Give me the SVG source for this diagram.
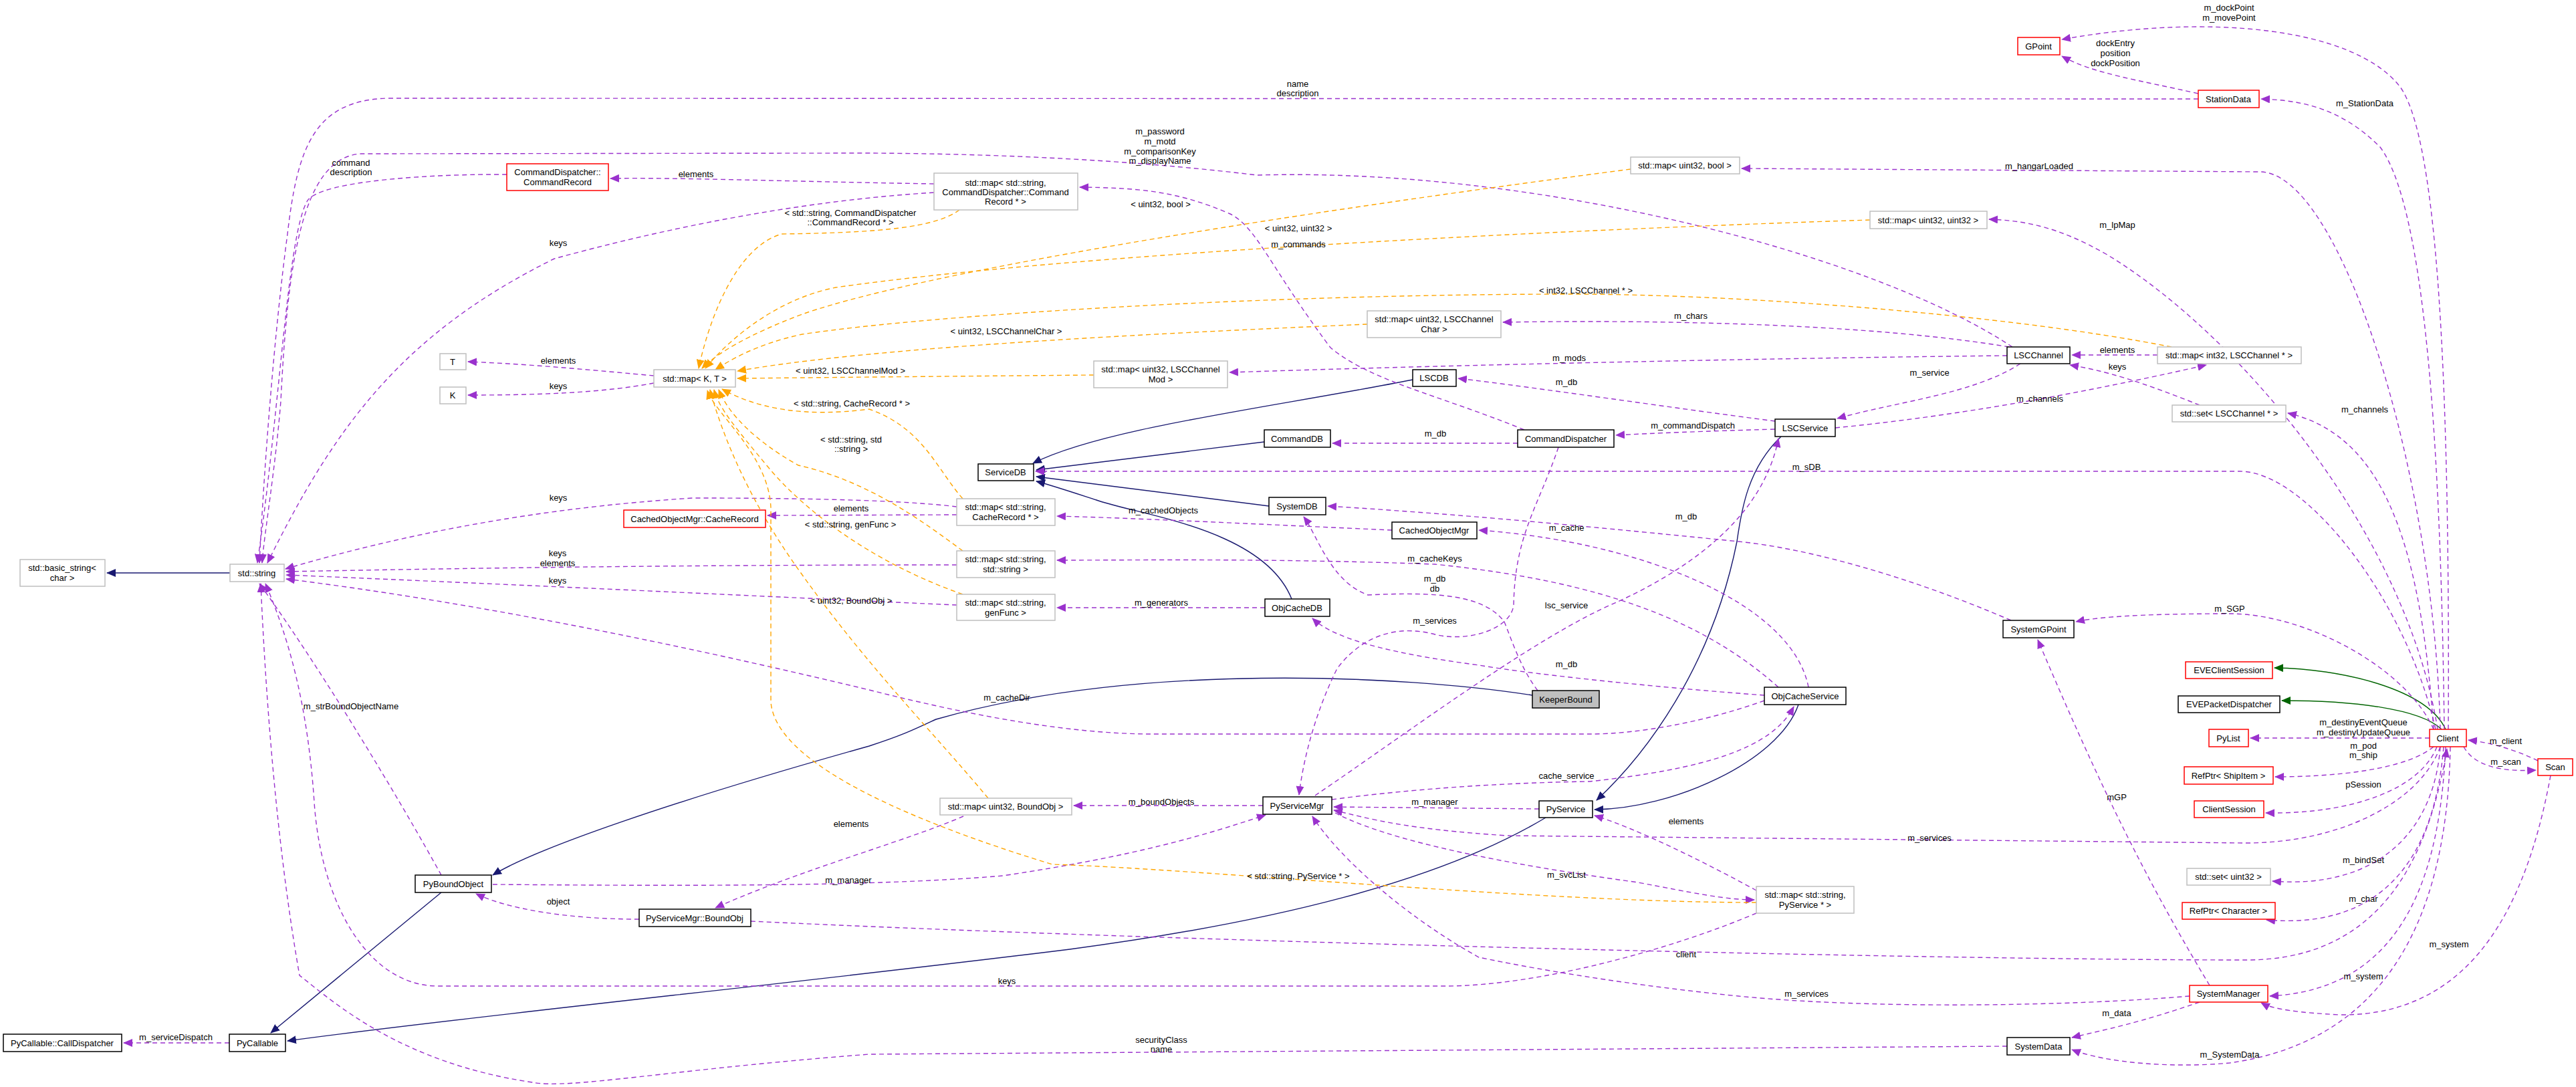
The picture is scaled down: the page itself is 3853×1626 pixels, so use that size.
<svg xmlns="http://www.w3.org/2000/svg" width="3853" height="1626" viewBox="0 0 3853 1626">
<style>
text{font-family:"Liberation Sans",Arial,sans-serif;font-size:13px;fill:#000;text-anchor:middle}
.n rect{fill:#fff;stroke:#000;stroke-width:1.5}
.t rect{fill:#fff;stroke:#bfbfbf;stroke-width:1.5}
.r rect{fill:#fff;stroke:#ff0000;stroke-width:1.5}
.k rect{fill:#bfbfbf;stroke:#000;stroke-width:1.5}
#edges path{fill:none;stroke-width:1.4}
.p{stroke:#9a32cd;stroke-dasharray:7,5;marker-end:url(#ap)}
.o{stroke:#ffa500;stroke-dasharray:7,5;marker-end:url(#ao)}
.b{stroke:#191970;marker-end:url(#ab)}
.g{stroke:#006400;marker-end:url(#ag)}
</style>
<defs>
<marker id="ap" markerUnits="userSpaceOnUse" markerWidth="14" markerHeight="12" refX="13" refY="6" orient="auto"><path d="M0,0L14,6L0,12z" fill="#9a32cd"/></marker>
<marker id="ao" markerUnits="userSpaceOnUse" markerWidth="14" markerHeight="12" refX="13" refY="6" orient="auto"><path d="M0,0L14,6L0,12z" fill="#ffa500"/></marker>
<marker id="ab" markerUnits="userSpaceOnUse" markerWidth="14" markerHeight="12" refX="13" refY="6" orient="auto"><path d="M0,0L14,6L0,12z" fill="#191970"/></marker>
<marker id="ag" markerUnits="userSpaceOnUse" markerWidth="14" markerHeight="12" refX="13" refY="6" orient="auto"><path d="M0,0L14,6L0,12z" fill="#006400"/></marker>
</defs>
<rect width="3853" height="1626" fill="#fff"/>
<g id="edges">
<path class="b" d="M344,857L160,857"/>
<path class="b" d="M660,1335L405,1545"/>
<path class="b" d="M2312,1223C2150,1320 1900,1380 1600,1420C1200,1470 700,1520 430,1557"/>
<path class="b" d="M2292,1040C2100,1010 1700,990 1400,1076C1370,1090 1350,1100 1300,1116C1000,1200 800,1270 737,1309"/>
<path class="b" d="M2690,1054C2660,1140 2500,1210 2385,1211"/>
<path class="b" d="M2664,653C2615,700 2605,760 2598,810C2560,1000 2460,1130 2388,1197"/>
<path class="b" d="M1932,896C1890,790 1700,770 1640,748C1600,735 1570,725 1550,720"/>
<path class="b" d="M1898,757L1550,713"/>
<path class="b" d="M1891,661L1550,703"/>
<path class="b" d="M2113,568C1900,610 1650,640 1545,693"/>
<path class="g" d="M3658,1091C3630,1030 3500,1000 3402,999"/>
<path class="g" d="M3652,1091C3620,1060 3520,1048 3413,1048"/>
<path class="p" d="M978,562C900,555 800,545 700,541"/>
<path class="p" d="M978,573C900,588 800,591 700,591"/>
<path class="p" d="M3288,140C3200,120 3130,110 3084,84"/>
<path class="p" d="M3662,1091C3665,500 3640,200 3590,130C3520,40 3300,20 3084,59"/>
<path class="p" d="M3656,1091C3650,600 3620,300 3560,220C3500,160 3440,150 3382,148"/>
<path class="p" d="M3288,148L580,147C470,150 445,220 430,350C410,500 395,700 388,842"/>
<path class="p" d="M3650,1091C3640,700 3500,257 3380,257L2605,252"/>
<path class="p" d="M3646,1091C3600,800 3350,500 3150,380C3080,340 3030,330 2975,328"/>
<path class="p" d="M3010,519C2800,380 2300,250 1880,262C1700,240 1500,230 1300,229L540,230C450,235 430,400 420,600C412,700 395,800 392,842"/>
<path class="p" d="M1397,275C1200,272 1000,265 913,267"/>
<path class="p" d="M1397,288C1200,300 1000,340 829,387C600,500 500,640 400,842"/>
<path class="p" d="M758,261C650,260 480,270 460,300C430,350 420,600 385,842"/>
<path class="p" d="M2280,643C2150,590 2050,570 1990,520C1900,400 1880,340 1840,320C1760,285 1700,281 1615,280"/>
<path class="p" d="M2745,640C2950,620 3150,580 3300,546"/>
<path class="p" d="M3227,531L3099,531"/>
<path class="p" d="M3290,606C3200,570 3150,555 3096,546"/>
<path class="p" d="M3640,1091C3620,800 3560,650 3422,618"/>
<path class="p" d="M3005,519C2800,485 2500,478 2248,482"/>
<path class="p" d="M3002,532C2700,535 2200,545 1839,557"/>
<path class="p" d="M3022,544C2950,590 2840,600 2748,626"/>
<path class="p" d="M2655,630C2500,610 2300,580 2181,566"/>
<path class="p" d="M2655,642C2550,645 2470,648 2417,651"/>
<path class="p" d="M2270,663L1993,663"/>
<path class="p" d="M3643,1091C3600,900 3450,705 3350,705L1549,705"/>
<path class="p" d="M3008,928C2850,860 2700,820 2600,810C2400,790 2200,770 1986,757"/>
<path class="p" d="M1431,770L1148,771"/>
<path class="p" d="M1431,758C1350,748 1200,745 1036,745C800,760 600,800 427,851"/>
<path class="p" d="M2082,793C1900,785 1700,775 1581,772"/>
<path class="p" d="M2705,1028C2680,900 2450,810 2212,793"/>
<path class="p" d="M1431,845C1000,845 700,850 428,855"/>
<path class="p" d="M2660,1028C2550,930 2400,870 2146,844C1900,835 1700,838 1581,838"/>
<path class="p" d="M1892,909L1581,909"/>
<path class="p" d="M1431,905C1200,895 900,880 428,860"/>
<path class="p" d="M2300,1033C2275,1000 2262,960 2250,930C2220,890 2150,885 2046,890C1990,870 1970,800 1950,773"/>
<path class="p" d="M2331,669C2300,760 2266,800 2264,905C2260,940 2200,960 2150,950C2080,930 2030,960 2000,1000C1970,1060 1950,1130 1943,1189"/>
<path class="p" d="M1967,1190C2100,1100 2300,950 2420,900C2550,840 2640,760 2660,656"/>
<path class="p" d="M2639,1040C2500,1030 2300,1010 2212,995C2100,980 2000,960 1963,925"/>
<path class="p" d="M2639,1048C2550,1080 2450,1098 2378,1098L1723,1098C1600,1098 1450,1070 1300,1032C1000,960 700,900 428,866"/>
<path class="p" d="M1992,1196C2150,1175 2300,1170 2378,1169C2550,1150 2650,1120 2683,1057"/>
<path class="p" d="M3650,1117C3620,1200 3500,1261 3359,1261L2254,1250C2100,1240 2050,1225 1995,1212"/>
<path class="p" d="M2302,1210L1995,1207"/>
<path class="p" d="M2627,1332C2550,1290 2450,1240 2385,1220"/>
<path class="p" d="M1997,1216C2100,1270 2343,1305 2450,1320C2530,1335 2580,1346 2624,1346"/>
<path class="p" d="M3275,1490C3100,1505 2800,1510 2600,1490C2400,1470 2250,1440 2212,1432C2100,1370 2000,1280 1963,1221"/>
<path class="p" d="M3305,1474C3200,1300 3130,1150 3048,957"/>
<path class="p" d="M3290,1499C3200,1530 3150,1540 3099,1552"/>
<path class="p" d="M3002,1565L1300,1577C1000,1600 850,1630 796,1619C600,1590 500,1500 448,1459C420,1300 400,1100 390,873"/>
<path class="p" d="M3665,1117C3660,1400 3550,1560 3335,1590C3250,1598 3150,1590 3099,1570"/>
<path class="p" d="M3658,1117C3650,1300 3600,1480 3395,1490"/>
<path class="p" d="M3815,1160C3780,1350 3700,1520 3500,1518C3440,1515 3400,1510 3382,1500"/>
<path class="p" d="M3685,1117C3700,1145 3740,1155 3793,1152"/>
<path class="p" d="M3796,1138C3760,1120 3720,1110 3692,1107"/>
<path class="p" d="M3634,1104L3366,1104"/>
<path class="p" d="M3640,1117C3600,1150 3500,1162 3403,1162"/>
<path class="p" d="M3645,1117C3620,1180 3520,1218 3389,1216"/>
<path class="p" d="M3650,1117C3640,1250 3550,1330 3399,1318"/>
<path class="p" d="M3655,1117C3640,1300 3550,1390 3390,1376"/>
<path class="p" d="M1123,1378C1800,1410 2900,1436 3360,1436C3550,1436 3630,1300 3660,1120"/>
<path class="p" d="M2627,1366C2500,1420 2300,1475 2162,1475L655,1475C550,1475 480,1350 470,1200C460,1050 430,950 397,873"/>
<path class="p" d="M1889,1205L1606,1205"/>
<path class="p" d="M1441,1221C1350,1260 1200,1300 1070,1358"/>
<path class="p" d="M956,1375C850,1375 760,1360 712,1337"/>
<path class="p" d="M660,1309C600,1200 480,1000 388,873"/>
<path class="p" d="M737,1323C1000,1325 1300,1327 1500,1310C1700,1280 1800,1250 1893,1219"/>
<path class="p" d="M343,1560L185,1560"/>
<path class="p" d="M3640,1091C3600,1000 3450,918 3335,918C3250,918 3150,920 3105,930"/>
<path class="o" d="M2439,253C2000,310 1400,400 1200,470C1120,500 1070,530 1050,551"/>
<path class="o" d="M2797,329C2300,345 1600,380 1250,430C1150,450 1080,520 1055,551"/>
<path class="o" d="M3248,519C3000,470 2600,440 2350,440C1900,440 1400,470 1200,500C1130,515 1090,540 1070,553"/>
<path class="o" d="M2045,485C1700,500 1300,520 1103,555"/>
<path class="o" d="M1636,561C1400,563 1200,565 1103,566"/>
<path class="o" d="M1435,314C1400,340 1320,348 1169,350C1100,370 1060,480 1045,551"/>
<path class="o" d="M1440,746C1400,700 1380,640 1300,612C1200,625 1130,610 1080,582"/>
<path class="o" d="M1440,824C1380,780 1300,720 1194,696C1130,660 1090,620 1075,583"/>
<path class="o" d="M1440,889C1300,840 1200,760 1150,700C1100,640 1075,610 1068,583"/>
<path class="o" d="M1478,1194C1400,1100 1300,1000 1200,860C1120,750 1080,650 1062,583"/>
<path class="o" d="M2627,1350C2300,1350 1800,1300 1574,1293C1400,1240 1160,1150 1153,1050L1153,760C1150,680 1070,620 1058,584"/>
</g>
<g id="labels">
<text x="3334" y="16">m_dockPoint</text><text x="3334" y="31">m_movePoint</text>
<text x="3164" y="69">dockEntry</text><text x="3164" y="84">position</text><text x="3164" y="99">dockPosition</text>
<text x="3537" y="159">m_StationData</text>
<text x="1941" y="130">name</text><text x="1941" y="144">description</text>
<text x="3050" y="253">m_hangarLoaded</text>
<text x="3167" y="341">m_lpMap</text>
<text x="1735" y="201">m_password</text><text x="1735" y="216">m_motd</text><text x="1735" y="231">m_comparisonKey</text><text x="1735" y="245">m_displayName</text>
<text x="525" y="248">command</text><text x="525" y="262">description</text>
<text x="1041" y="265">elements</text>
<text x="835" y="368">keys</text>
<text x="1272" y="323">&lt; std::string, CommandDispatcher</text><text x="1272" y="337">::CommandRecord * &gt;</text>
<text x="1736" y="310">&lt; uint32, bool &gt;</text>
<text x="1942" y="346">&lt; uint32, uint32 &gt;</text><text x="1942" y="370">m_commands</text>
<text x="2372" y="439">&lt; int32, LSCChannel * &gt;</text>
<text x="2529" y="477">m_chars</text>
<text x="1505" y="500">&lt; uint32, LSCChannelChar &gt;</text>
<text x="835" y="544">elements</text><text x="835" y="582">keys</text>
<text x="1272" y="559">&lt; uint32, LSCChannelMod &gt;</text>
<text x="2347" y="540">m_mods</text>
<text x="3167" y="528">elements</text><text x="3167" y="553">keys</text>
<text x="2886" y="562">m_service</text><text x="3051" y="601">m_channels</text><text x="3537" y="617">m_channels</text>
<text x="2343" y="576">m_db</text>
<text x="2532" y="641">m_commandDispatch</text>
<text x="2147" y="653">m_db</text>
<text x="1274" y="608">&lt; std::string, CacheRecord * &gt;</text>
<text x="1273" y="662">&lt; std::string, std</text><text x="1273" y="676">::string &gt;</text>
<text x="2702" y="703">m_sDB</text>
<text x="835" y="749">keys</text>
<text x="1273" y="765">elements</text>
<text x="1740" y="768">m_cachedObjects</text>
<text x="2522" y="777">m_db</text>
<text x="1272" y="789">&lt; std::string, genFunc &gt;</text>
<text x="2343" y="794">m_cache</text>
<text x="834" y="832">keys</text><text x="834" y="847">elements</text>
<text x="2146" y="840">m_cacheKeys</text>
<text x="2146" y="870">m_db</text><text x="2146" y="885">db</text>
<text x="834" y="873">keys</text>
<text x="1273" y="903">&lt; uint32, BoundObj &gt;</text>
<text x="1737" y="906">m_generators</text>
<text x="2343" y="910">lsc_service</text>
<text x="3335" y="915">m_SGP</text>
<text x="2146" y="933">m_services</text>
<text x="2343" y="998">m_db</text>
<text x="1506" y="1048">m_cacheDir</text>
<text x="525" y="1061">m_strBoundObjectName</text>
<text x="3535" y="1085">m_destinyEventQueue</text><text x="3535" y="1100">m_destinyUpdateQueue</text>
<text x="3748" y="1113">m_client</text><text x="3748" y="1144">m_scan</text>
<text x="3535" y="1120">m_pod</text><text x="3535" y="1134">m_ship</text>
<text x="2343" y="1165">cache_service</text>
<text x="3535" y="1178">pSession</text>
<text x="3166" y="1197">mGP</text>
<text x="1737" y="1204">m_boundObjects</text>
<text x="2146" y="1204">m_manager</text>
<text x="2522" y="1233">elements</text>
<text x="1273" y="1237">elements</text>
<text x="2886" y="1258">m_services</text>
<text x="3535" y="1291">m_bindSet</text>
<text x="1942" y="1315">&lt; std::string, PyService * &gt;</text>
<text x="2343" y="1313">m_svcList</text>
<text x="1269" y="1321">m_manager</text>
<text x="835" y="1353">object</text>
<text x="3535" y="1349">m_char</text>
<text x="3663" y="1417">m_system</text>
<text x="2522" y="1432">client</text>
<text x="3535" y="1465">m_system</text>
<text x="1506" y="1472">keys</text>
<text x="2702" y="1491">m_services</text>
<text x="3166" y="1520">m_data</text>
<text x="263" y="1556">m_serviceDispatch</text>
<text x="1737" y="1560">securityClass</text><text x="1737" y="1574">name</text>
<text x="3335" y="1582">m_SystemData</text>
</g>
<g id="GPoint" class="r"><rect x="3018" y="56" width="63" height="26"/><text x="3049" y="74">GPoint</text></g>
<g id="StationData" class="r"><rect x="3288" y="135" width="91" height="26"/><text x="3333" y="153">StationData</text></g>
<g id="CommandRecord" class="r"><rect x="758" y="245" width="152" height="40"/><text x="834" y="262">CommandDispatcher::</text><text x="834" y="277">CommandRecord</text></g>
<g id="mapCmd" class="t"><rect x="1397" y="259" width="215" height="55"/><text x="1504" y="278">std::map&lt; std::string,</text><text x="1504" y="292">CommandDispatcher::Command</text><text x="1504" y="306">Record * &gt;</text></g>
<g id="mapU32Bool" class="t"><rect x="2439" y="235" width="163" height="25"/><text x="2520" y="252">std::map&lt; uint32, bool &gt;</text></g>
<g id="mapU32U32" class="t"><rect x="2797" y="316" width="175" height="26"/><text x="2884" y="334">std::map&lt; uint32, uint32 &gt;</text></g>
<g id="T" class="t"><rect x="658" y="529" width="39" height="24"/><text x="677" y="546">T</text></g>
<g id="K" class="t"><rect x="658" y="579" width="39" height="25"/><text x="677" y="596">K</text></g>
<g id="mapKT" class="t"><rect x="978" y="553" width="122" height="26"/><text x="1039" y="571">std::map&lt; K, T &gt;</text></g>
<g id="mapChanChar" class="t"><rect x="2045" y="465" width="200" height="40"/><text x="2145" y="482">std::map&lt; uint32, LSCChannel</text><text x="2145" y="497">Char &gt;</text></g>
<g id="mapChanMod" class="t"><rect x="1636" y="540" width="200" height="40"/><text x="1736" y="557">std::map&lt; uint32, LSCChannel</text><text x="1736" y="572">Mod &gt;</text></g>
<g id="LSCDB" class="n"><rect x="2113" y="553" width="65" height="25"/><text x="2145" y="570">LSCDB</text></g>
<g id="LSCChannel" class="n"><rect x="3002" y="519" width="94" height="25"/><text x="3049" y="536">LSCChannel</text></g>
<g id="mapInt32Chan" class="t"><rect x="3227" y="519" width="215" height="25"/><text x="3334" y="536">std::map&lt; int32, LSCChannel * &gt;</text></g>
<g id="setChan" class="t"><rect x="3249" y="606" width="170" height="25"/><text x="3334" y="623">std::set&lt; LSCChannel * &gt;</text></g>
<g id="LSCService" class="n"><rect x="2655" y="627" width="90" height="26"/><text x="2700" y="645">LSCService</text></g>
<g id="CommandDB" class="n"><rect x="1891" y="643" width="99" height="26"/><text x="1940" y="661">CommandDB</text></g>
<g id="CommandDispatcher" class="n"><rect x="2270" y="643" width="144" height="26"/><text x="2342" y="661">CommandDispatcher</text></g>
<g id="ServiceDB" class="n"><rect x="1463" y="694" width="83" height="25"/><text x="1504" y="711">ServiceDB</text></g>
<g id="SystemDB" class="n"><rect x="1898" y="744" width="85" height="26"/><text x="1940" y="762">SystemDB</text></g>
<g id="mapCacheRec" class="t"><rect x="1431" y="746" width="147" height="40"/><text x="1504" y="763">std::map&lt; std::string,</text><text x="1504" y="778">CacheRecord * &gt;</text></g>
<g id="CacheRecord" class="r"><rect x="933" y="763" width="212" height="26"/><text x="1039" y="781">CachedObjectMgr::CacheRecord</text></g>
<g id="CachedObjectMgr" class="n"><rect x="2082" y="781" width="127" height="25"/><text x="2145" y="798">CachedObjectMgr</text></g>
<g id="basicString" class="t"><rect x="30" y="837" width="127" height="40"/><text x="93" y="854">std::basic_string&lt;</text><text x="93" y="869">char &gt;</text></g>
<g id="stdString" class="t"><rect x="344" y="844" width="81" height="26"/><text x="384" y="862">std::string</text></g>
<g id="mapSS" class="t"><rect x="1431" y="824" width="147" height="40"/><text x="1504" y="841">std::map&lt; std::string,</text><text x="1504" y="856">std::string &gt;</text></g>
<g id="mapGenFunc" class="t"><rect x="1431" y="889" width="147" height="39"/><text x="1504" y="906">std::map&lt; std::string,</text><text x="1504" y="921">genFunc &gt;</text></g>
<g id="ObjCacheDB" class="n"><rect x="1892" y="896" width="97" height="26"/><text x="1940" y="914">ObjCacheDB</text></g>
<g id="SystemGPoint" class="n"><rect x="2996" y="928" width="106" height="26"/><text x="3049" y="946">SystemGPoint</text></g>
<g id="EVEClientSession" class="r"><rect x="3269" y="990" width="130" height="25"/><text x="3334" y="1007">EVEClientSession</text></g>
<g id="ObjCacheService" class="n"><rect x="2639" y="1028" width="122" height="26"/><text x="2700" y="1046">ObjCacheService</text></g>
<g id="KeeperBound" class="k"><rect x="2292" y="1033" width="100" height="26"/><text x="2342" y="1051">KeeperBound</text></g>
<g id="EVEPacketDispatcher" class="n"><rect x="3258" y="1041" width="152" height="25"/><text x="3334" y="1058">EVEPacketDispatcher</text></g>
<g id="PyList" class="r"><rect x="3304" y="1091" width="59" height="26"/><text x="3333" y="1109">PyList</text></g>
<g id="Client" class="r"><rect x="3634" y="1091" width="55" height="26"/><text x="3661" y="1109">Client</text></g>
<g id="Scan" class="r"><rect x="3796" y="1135" width="52" height="25"/><text x="3822" y="1152">Scan</text></g>
<g id="RefPtrShipItem" class="r"><rect x="3267" y="1147" width="133" height="26"/><text x="3333" y="1165">RefPtr&lt; ShipItem &gt;</text></g>
<g id="PyServiceMgr" class="n"><rect x="1889" y="1192" width="103" height="26"/><text x="1940" y="1210">PyServiceMgr</text></g>
<g id="mapU32BoundObj" class="t"><rect x="1406" y="1194" width="197" height="25"/><text x="1504" y="1211">std::map&lt; uint32, BoundObj &gt;</text></g>
<g id="PyService" class="n"><rect x="2302" y="1198" width="80" height="25"/><text x="2342" y="1215">PyService</text></g>
<g id="ClientSession" class="r"><rect x="3282" y="1198" width="104" height="25"/><text x="3334" y="1215">ClientSession</text></g>
<g id="setU32" class="t"><rect x="3271" y="1299" width="125" height="25"/><text x="3333" y="1316">std::set&lt; uint32 &gt;</text></g>
<g id="PyBoundObject" class="n"><rect x="621" y="1309" width="114" height="26"/><text x="678" y="1327">PyBoundObject</text></g>
<g id="mapStrPySvc" class="t"><rect x="2627" y="1326" width="146" height="40"/><text x="2700" y="1343">std::map&lt; std::string,</text><text x="2700" y="1358">PyService * &gt;</text></g>
<g id="RefPtrCharacter" class="r"><rect x="3264" y="1350" width="139" height="25"/><text x="3333" y="1367">RefPtr&lt; Character &gt;</text></g>
<g id="BoundObj" class="n"><rect x="956" y="1360" width="167" height="26"/><text x="1039" y="1378">PyServiceMgr::BoundObj</text></g>
<g id="SystemManager" class="r"><rect x="3275" y="1474" width="117" height="25"/><text x="3333" y="1491">SystemManager</text></g>
<g id="CallDispatcher" class="n"><rect x="5" y="1547" width="177" height="26"/><text x="93" y="1565">PyCallable::CallDispatcher</text></g>
<g id="PyCallable" class="n"><rect x="343" y="1547" width="84" height="26"/><text x="385" y="1565">PyCallable</text></g>
<g id="SystemData" class="n"><rect x="3002" y="1552" width="94" height="26"/><text x="3049" y="1570">SystemData</text></g>
</svg>
